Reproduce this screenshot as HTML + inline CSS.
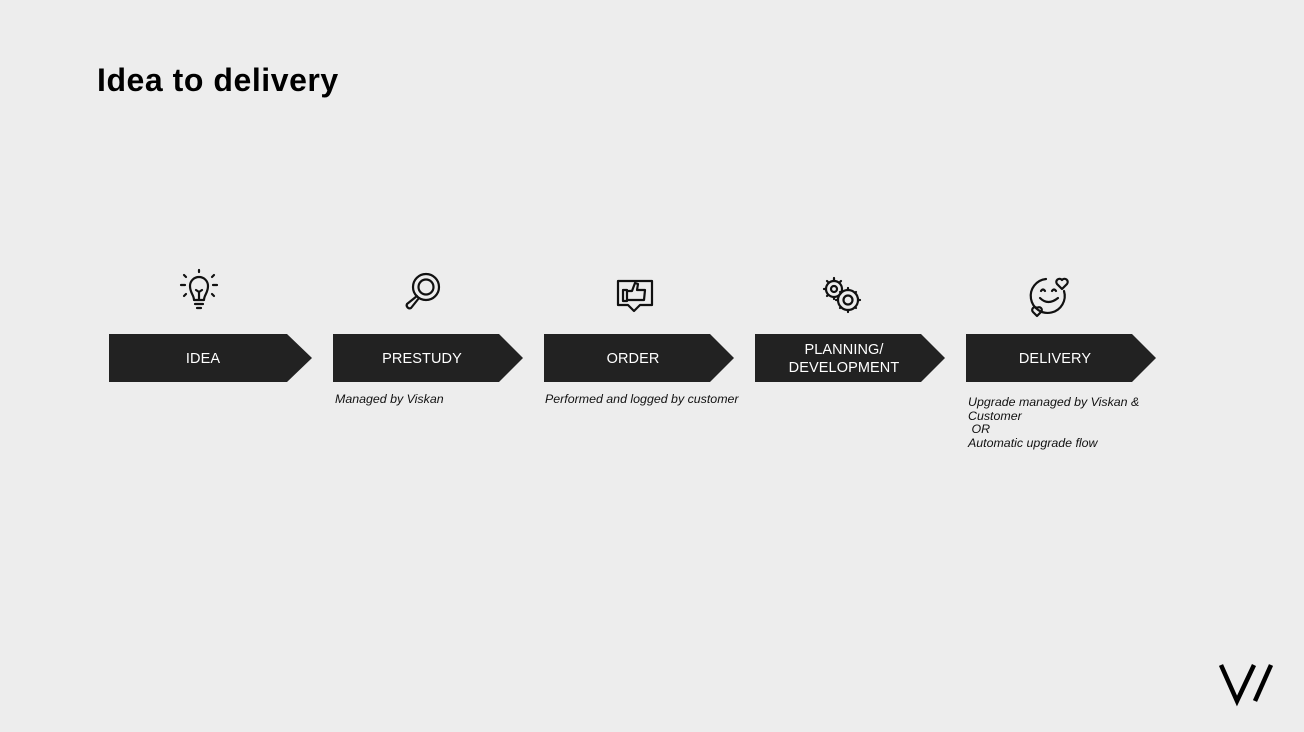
<!DOCTYPE html>
<html><head><style>
body{margin:0;width:1304px;height:732px;background:#ededed;font-family:"Liberation Sans",sans-serif;overflow:hidden;position:relative}
h1{position:absolute;left:97px;top:62px;margin:0;font-size:32px;font-weight:bold;color:#000;letter-spacing:0.55px}
.t{position:absolute;color:#fff;font-size:14.5px;text-align:center;line-height:18px;letter-spacing:0.1px}
.s{position:absolute;font-size:12.4px;font-style:italic;color:#111;line-height:13.5px}
</style></head><body>
<h1>Idea to delivery</h1>
<svg width="1304" height="732" style="position:absolute;left:0;top:0">
<g fill="#222">
<polygon points="109,334 287,334 312,358 287,382 109,382"/>
<polygon points="333,334 499,334 523,358 499,382 333,382"/>
<polygon points="544,334 710,334 734,358 710,382 544,382"/>
<polygon points="755,334 921,334 945,358 921,382 755,382"/>
<polygon points="966,334 1132,334 1156,358 1132,382 966,382"/>
</g>
<g fill="none" stroke="#111" stroke-width="2.2" stroke-linecap="round" stroke-linejoin="round">
<path d="M194,300 C194,295 190,293 190,286 A9,9 0 1 1 208,286 C208,293 204,295 204,300 Z M195,304 L203,304 M197,308 L201,308 M196,290 L199,292 L202,290 M199,292 L199,300"/>
<path d="M181,285 L185,285 M213,285 L217,285 M184,275 L186,277 M214,275 L212,277 M184,296 L186,294 M214,296 L212,294 M199,270 L199,272"/>
<circle cx="426" cy="287" r="13"/><circle cx="426" cy="287" r="7.5"/>
<path d="M417,296 L407,304 A3,3 0 0 0 411,308 L419,298"/>
<path d="M618,281 L652,281 L652,305 L640,305 L634,311 L628,305 L618,305 Z"/>
<path d="M623,290 L627,290 L627,301 L623,301 Z M627,291 L632,291 L635,283 L638,284 L637,290 L645,290 L644,300 L627,300"/>
<circle cx="834" cy="289" r="8"/><circle cx="834" cy="289" r="3"/>
<circle cx="848" cy="300" r="10"/><circle cx="848" cy="300" r="4.5"/>
<path d="M834,278 L834,280 M824,289 L826,289 M827,281 L828,282 M841,281 L840,282 M827,296 L828,295 M834,298 L834,299"/>
<path d="M848,288 L848,290 M848,310 L848,312 M836,300 L838,300 M858,300 L860,300 M840,292 L841,293 M856,292 L855,293 M840,308 L841,307 M856,308 L855,307"/>
<path d="M1064,291 A17,17 0 1 1 1046,279"/>
<path d="M1041,291 Q1043,288 1045,291 M1052,291 Q1054,288 1056,291 M1040,298 Q1048,306 1058,298"/>
<path d="M1062,289 L1057,284 A2.5,2.5 0 0 1 1062,280 A2.5,2.5 0 0 1 1067,284 Z"/>
<path d="M1037,316 L1033,312 A2,2 0 0 1 1037,308 A2,2 0 0 1 1041,312 Z"/>
</g>
<g stroke="#000" stroke-width="4.5" fill="none">
<path d="M1221,665 L1237,701 L1254,665"/>
<path d="M1271,665 L1255,701"/>
</g>
</svg>
<div class="t" style="left:109px;width:188px;top:350px">IDEA</div>
<div class="t" style="left:333px;width:178px;top:350px">PRESTUDY</div>
<div class="t" style="left:544px;width:178px;top:350px">ORDER</div>
<div class="t" style="left:755px;width:178px;top:341px">PLANNING/<br>DEVELOPMENT</div>
<div class="t" style="left:966px;width:178px;top:350px">DELIVERY</div>
<div class="s" style="left:335px;top:393px">Managed by Viskan</div>
<div class="s" style="left:545px;top:393px">Performed and logged by customer</div>
<div class="s" style="left:968px;top:396px">Upgrade managed by Viskan &amp;<br>Customer<br>&nbsp;OR<br>Automatic upgrade flow</div>
</body></html>
